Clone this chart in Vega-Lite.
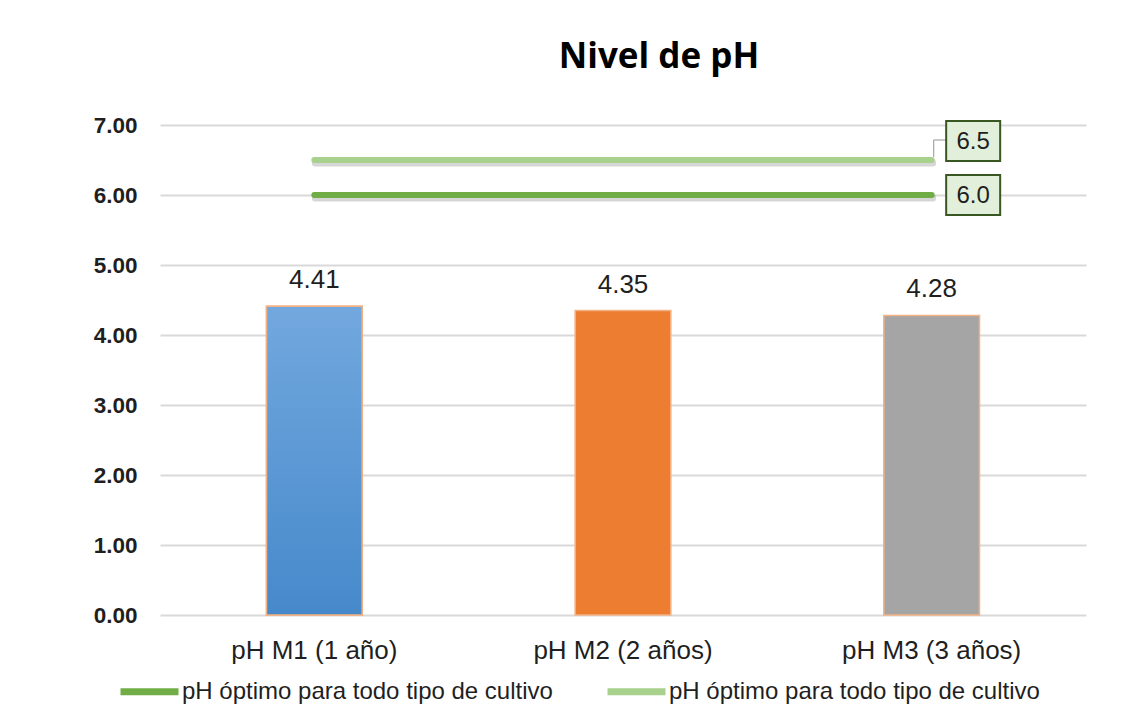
{
  "$schema": "https://vega.github.io/schema/vega-lite/v6.json",
  "autosize": "none",
  "width": 926,
  "height": 490,
  "padding": {"left": 160, "top": 125, "right": 53, "bottom": 107},
  "background": "#ffffff",
  "title": {
    "text": "Nivel de pH",
    "font": "Open Sans",
    "fontSize": 35,
    "fontWeight": "bold",
    "color": "#000000",
    "anchor": "middle",
    "frame": "group",
    "baseline": "alphabetic",
    "offset": 11,
    "dx": 36
  },
  "datasets": {
    "barras": [
      {"categoria": "pH M1 (1 año)", "ph": 4.41},
      {"categoria": "pH M2 (2 años)", "ph": 4.35},
      {"categoria": "pH M3 (3 años)", "ph": 4.28}
    ],
    "optimo": [
      {"categoria": "pH M1 (1 año)", "ref": "6.0", "ph": 6.0},
      {"categoria": "pH M3 (3 años)", "ref": "6.0", "ph": 6.0},
      {"categoria": "pH M1 (1 año)", "ref": "6.5", "ph": 6.5},
      {"categoria": "pH M3 (3 años)", "ref": "6.5", "ph": 6.5}
    ]
  },
  "config": {
    "view": {"stroke": null},
    "axis": {"labelFont": "Liberation Sans", "labelColor": "#1f1f1f"}
  },
  "layer": [
    {
      "data": {"name": "barras"},
      "mark": {"type": "bar", "stroke": "#f4b183", "strokeWidth": 1.5},
      "encoding": {
        "x": {
          "field": "categoria",
          "type": "nominal",
          "scale": {
            "domain": ["pH M1 (1 año)", "pH M2 (2 años)", "pH M3 (3 años)"],
            "paddingInner": 0.69,
            "paddingOuter": 0.345
          },
          "axis": {
            "title": null,
            "labelAngle": 0,
            "labelFontSize": 26,
            "labelPadding": 22.5,
            "domain": false,
            "ticks": false,
            "tickSize": 0,
            "grid": false
          }
        },
        "y": {
          "field": "ph",
          "type": "quantitative",
          "scale": {"domain": [0, 7], "nice": false},
          "axis": {
            "title": null,
            "values": [0, 1, 2, 3, 4, 5, 6, 7],
            "format": ".2f",
            "labelFontSize": 22.5,
            "labelFontWeight": "bold",
            "labelPadding": 23,
            "domain": false,
            "ticks": false,
            "tickSize": 0,
            "grid": true,
            "gridColor": "#d9d9d9",
            "gridWidth": 2
          }
        },
        "fill": {
          "field": "categoria",
          "type": "nominal",
          "scale": {
            "domain": ["pH M1 (1 año)", "pH M2 (2 años)", "pH M3 (3 años)"],
            "range": ["#5b9bd5", "#ed7d31", "#a5a5a5"]
          },
          "legend": null
        }
      }
    },
    {
      "data": {"name": "barras"},
      "transform": [{"filter": "datum.categoria === 'pH M1 (1 año)'"}],
      "mark": {
        "type": "bar",
        "stroke": "#f4b183",
        "strokeWidth": 1.5,
        "fill": {
          "gradient": "linear",
          "x1": 0, "y1": 0, "x2": 0, "y2": 1,
          "stops": [
            {"offset": 0, "color": "#72a8de"},
            {"offset": 1, "color": "#4689cb"}
          ]
        }
      },
      "encoding": {
        "x": {"field": "categoria", "type": "nominal"},
        "y": {"field": "ph", "type": "quantitative"}
      }
    },
    {
      "data": {"name": "barras"},
      "mark": {
        "type": "text",
        "font": "Liberation Sans",
        "fontSize": 26,
        "color": "#1f1f1f",
        "baseline": "alphabetic",
        "dy": -18
      },
      "encoding": {
        "x": {"field": "categoria", "type": "nominal"},
        "y": {"field": "ph", "type": "quantitative"},
        "text": {"field": "ph", "type": "quantitative", "format": ".2f"}
      }
    },
    {
      "data": {"name": "optimo"},
      "mark": {
        "type": "line",
        "color": "#000000",
        "opacity": 0.16,
        "strokeWidth": 7,
        "strokeCap": "round",
        "yOffset": 3,
        "xOffset": 1
      },
      "encoding": {
        "x": {"field": "categoria", "type": "nominal"},
        "y": {"field": "ph", "type": "quantitative"},
        "detail": {"field": "ref", "type": "nominal"}
      }
    },
    {
      "data": {"name": "optimo"},
      "mark": {"type": "line", "strokeWidth": 6, "strokeCap": "round"},
      "encoding": {
        "x": {"field": "categoria", "type": "nominal"},
        "y": {"field": "ph", "type": "quantitative"},
        "stroke": {
          "field": "ref",
          "type": "nominal",
          "scale": {"domain": ["6.0", "6.5"], "range": ["#70ad47", "#a9d18e"]},
          "legend": {
            "orient": "none",
            "direction": "horizontal",
            "legendX": -43,
            "legendY": 534,
            "title": null,
            "symbolType": "stroke",
            "symbolSize": 3364,
            "symbolStrokeWidth": 7,
            "labelExpr": "'pH óptimo para todo tipo de cultivo'",
            "labelFont": "Liberation Sans",
            "labelFontSize": 24,
            "labelColor": "#1f1f1f",
            "labelLimit": 0,
            "labelOffset": 0,
            "columnPadding": 40
          }
        }
      }
    },
    {
      "data": {"name": "optimo"},
      "transform": [{"filter": "datum.categoria === 'pH M3 (3 años)' && datum.ref === '6.5'"}],
      "mark": {"type": "rule", "color": "#a6a6a6", "strokeWidth": 1.2, "xOffset": 2, "yOffset": -3, "y2Offset": -20},
      "encoding": {
        "x": {"field": "categoria", "type": "nominal"},
        "y": {"field": "ph", "type": "quantitative"},
        "y2": {"field": "ph"}
      }
    },
    {
      "data": {"name": "optimo"},
      "transform": [{"filter": "datum.categoria === 'pH M3 (3 años)' && datum.ref === '6.5'"}],
      "mark": {"type": "rule", "color": "#a6a6a6", "strokeWidth": 1.2, "xOffset": 2, "x2Offset": 15, "yOffset": -20},
      "encoding": {
        "x": {"field": "categoria", "type": "nominal"},
        "x2": {"field": "categoria"},
        "y": {"field": "ph", "type": "quantitative"}
      }
    },
    {
      "data": {"name": "optimo"},
      "transform": [{"filter": "datum.categoria === 'pH M3 (3 años)' && datum.ref === '6.0'"}],
      "layer": [
        {
          "mark": {
            "type": "point",
            "shape": "M-1,-0.741L1,-0.741L1,0.741L-1,0.741Z",
            "size": 2916,
            "filled": true,
            "fill": "#e2efda",
            "stroke": "#385723",
            "strokeWidth": 2,
            "opacity": 1,
            "xOffset": 41.5
          }
        },
        {
          "mark": {
            "type": "text",
            "font": "Liberation Sans",
            "fontSize": 24,
            "color": "#1f1f1f",
            "baseline": "middle",
            "xOffset": 41.5,
            "dy": 1
          },
          "encoding": {"text": {"field": "ph", "type": "quantitative", "format": ".1f"}}
        }
      ],
      "encoding": {
        "x": {"field": "categoria", "type": "nominal"},
        "y": {"field": "ph", "type": "quantitative"}
      }
    },
    {
      "data": {"name": "optimo"},
      "transform": [{"filter": "datum.categoria === 'pH M3 (3 años)' && datum.ref === '6.5'"}],
      "layer": [
        {
          "mark": {
            "type": "point",
            "shape": "M-1,-0.741L1,-0.741L1,0.741L-1,0.741Z",
            "size": 2916,
            "filled": true,
            "fill": "#e2efda",
            "stroke": "#385723",
            "strokeWidth": 2,
            "opacity": 1,
            "xOffset": 41.5,
            "yOffset": -19
          }
        },
        {
          "mark": {
            "type": "text",
            "font": "Liberation Sans",
            "fontSize": 24,
            "color": "#1f1f1f",
            "baseline": "middle",
            "xOffset": 41.5,
            "yOffset": -19,
            "dy": 1
          },
          "encoding": {"text": {"field": "ph", "type": "quantitative", "format": ".1f"}}
        }
      ],
      "encoding": {
        "x": {"field": "categoria", "type": "nominal"},
        "y": {"field": "ph", "type": "quantitative"}
      }
    }
  ]
}
